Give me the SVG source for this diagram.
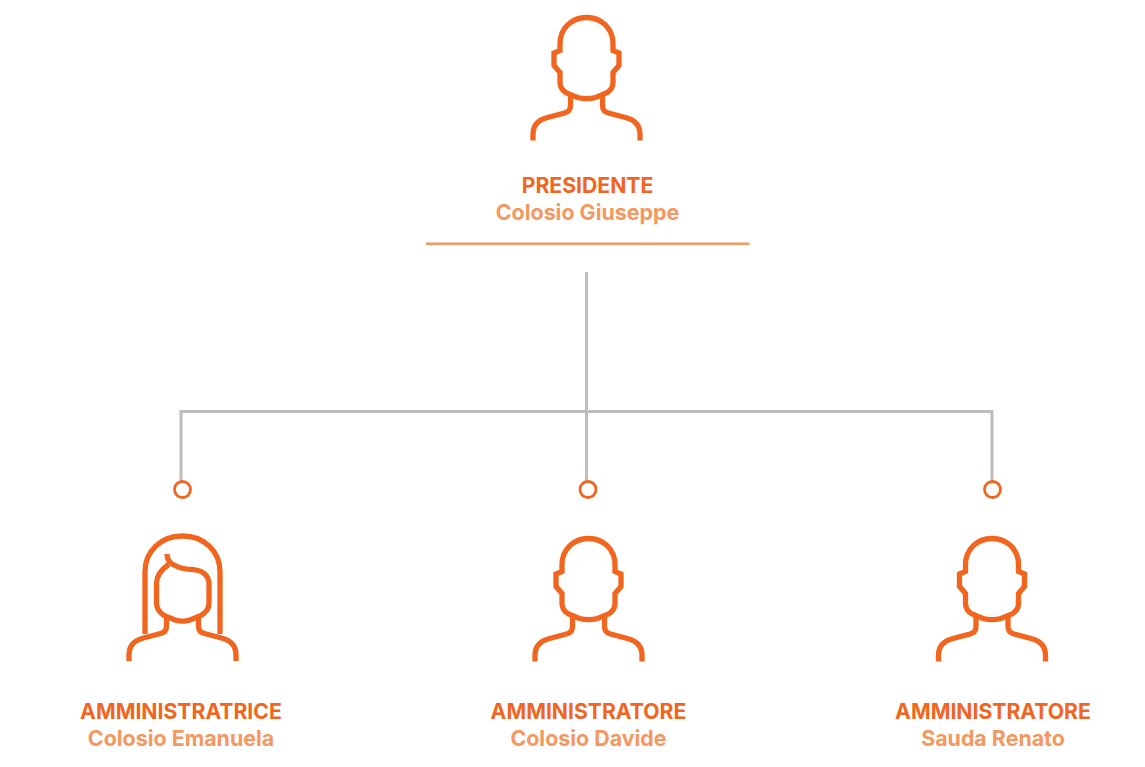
<svg xmlns="http://www.w3.org/2000/svg" width="1145" height="767" viewBox="0 0 1145 767">
<style>
.icon{fill:none;stroke:#f1651f;stroke-width:5.300}
.conn{fill:none;stroke:#bdbdbd;stroke-width:3}
.dot{fill:#fff;stroke:#f1651f;stroke-width:2.800}
.role,.name{font-family:Inter,"Liberation Sans",sans-serif;font-weight:700;text-anchor:middle}
.role{fill:#f1651f;font-size:21.200px}
.name{fill:#f4985f;font-size:21.400px}
</style>
<defs>
<g id="man">
<path class="icon" d="M-53.500 123V117C-53.500 107-47 102-39 100L-22 95.500C-18 94.500-16 92-16 88V76M16 76V88C16 92 18 94.500 22 95.500L39 100C47 102 53.500 107 53.500 117V123"/>
<path class="icon" d="M0 0C-15 0-26.500 11-26.500 26V33L-32.500 35.500V48L-26.500 55V65C-26.500 70-24 73-20 75.500L-9 80C-3 81.500 3 81.500 9 80L20 75.500C24 73 26.500 70 26.500 65V55L32.500 48V35.500L26.500 33V26C26.500 11 15 0 0 0Z"/>
</g>
</defs>
<g id="connectors">
<path class="conn" d="M586.500 272V411.500M181 482V411.500H992V482M586.500 411.500V482"/>
</g>
<g id="president">
<use href="#man" x="586.500" y="17.500"/>
<text class="role" x="587.500" y="192.500">PRESIDENTE</text>
<text class="name" x="587.500" y="219.500">Colosio Giuseppe</text>
<line x1="426" y1="243.800" x2="749.500" y2="243.800" stroke="#f4985f" stroke-width="2.500"/>
</g>
<g id="admin-emanuela">
<circle class="dot" cx="182.500" cy="489.500" r="8"/>
<path class="icon" d="M145 634V572C145 551 161 536 182.500 536C204 536 220 551 220 572V634"/>
<path class="icon" d="M129 661V655C129 645 135.500 640 143.500 638L160.500 633.500C164.500 632.500 166.500 630 166.500 626V616M198.500 616V626C198.500 630 200.500 632.500 204.500 633.500L221.500 638C229.500 640 236 645 236 655V661"/>
<path class="icon" d="M167 554C167 560 170 564 176 566C184 570 190 569 196 570C203 571 209 576 209 584V603C209 609 206 612 201 615.500L190 620C185 621.500 180 621.500 175 620L164 615.500C159 612 156.500 609 156.500 603V583C156.500 576 161 570 168.500 564.500"/>
<text class="role" x="181" y="718.500">AMMINISTRATRICE</text>
<text class="name" x="181" y="745.500">Colosio Emanuela</text>
</g>
<g id="admin-davide">
<circle class="dot" cx="588" cy="489.500" r="8"/>
<use href="#man" x="588.500" y="538.500"/>
<text class="role" x="588.500" y="718.500">AMMINISTRATORE</text>
<text class="name" x="588.500" y="745.500">Colosio Davide</text>
</g>
<g id="admin-renato">
<circle class="dot" cx="992.500" cy="489.500" r="8"/>
<use href="#man" x="992" y="538.500"/>
<text class="role" x="993" y="718.500">AMMINISTRATORE</text>
<text class="name" x="993" y="745.500">Sauda Renato</text>
</g>
</svg>
